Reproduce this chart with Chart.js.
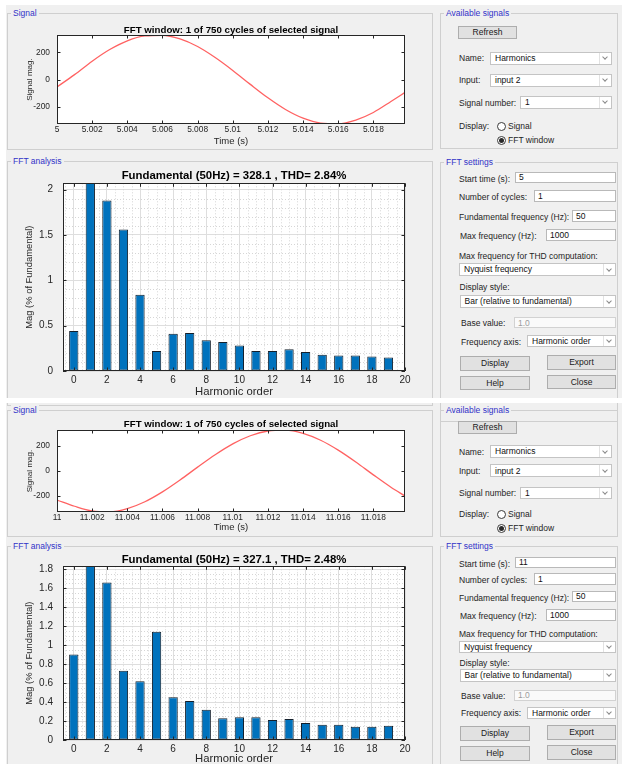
<!DOCTYPE html>
<html>
<head>
<meta charset="utf-8">
<script src="https://cdn.jsdelivr.net/npm/chart.js@4.4.1/dist/chart.umd.min.js"></script>
<style>
  html, body { margin: 0; padding: 0; }
  body { width: 622px; height: 764px; overflow: hidden; background: #fff; position: relative;
         font-family: "Liberation Sans", Arial, Helvetica, sans-serif; }
  .fig { position: absolute; background: #f0f0f0; }
  .gap { position: absolute; background: #fff; z-index: 5; }
  .frame { position: absolute; border: 1px solid #cfcfcf; box-sizing: border-box; }
  .frame .cap { position: absolute; top: -6px; left: 3px; padding: 0 2px; background: #f0f0f0;
                color: #3232c8; font-size: 8.5px; line-height: 10px; white-space: nowrap; }
  .lbl { position: absolute; font-size: 8.5px; line-height: 10px; height: 10px; color: #1e1e1e; white-space: nowrap; }
  .tb, .dd, .btn { position: absolute; box-sizing: border-box; font-size: 8.5px; line-height: 1;
                   display: flex; align-items: center; white-space: nowrap; color: #111; }
  .tb { background: #fff; border: 1px solid #b9b9b9; padding-left: 3px; }
  .tb.dis { color: #9c9c9c; border-color: #d2d2d2; background: #fafafa; }
  .dd { background: #fff; border: 1px solid #c4c4c4; padding-left: 4px; }
  .dd::after { content: ''; position: absolute; right: 0; top: 0; bottom: 0; width: 11px; border-left: 1px solid #e2e2e2; }
  .dd::before { content: ''; position: absolute; right: 4px; top: 50%; width: 3px; height: 3px; margin-top: -3px;
                border-right: 1px solid #8a8a8a; border-bottom: 1px solid #8a8a8a; transform: rotate(45deg); }
  .btn { background: #e1e1e1; border: 1px solid #adadad; justify-content: center; color: #1a1a1a; }
  .rd { position: absolute; width: 9px; height: 9px; border: 1px solid #3a3a3a; border-radius: 50%;
        background: #fff; box-sizing: border-box; }
  .rd.on::after { content: ''; position: absolute; left: 1px; top: 1px; width: 5px; height: 5px;
                  border-radius: 50%; background: #2a2a2a; }
  canvas { position: absolute; z-index: 3; }
</style>
</head>
<body>
<canvas id="sig5" width="420" height="128" style="left:10px;top:20px"></canvas>
<canvas id="fft5" width="420" height="232" style="left:10px;top:166px"></canvas>
<canvas id="sig11" width="420" height="121" style="left:10px;top:415px"></canvas>
<canvas id="fft11" width="420" height="215" style="left:10px;top:549px"></canvas>
<script>
// ---- data ----------------------------------------------------------
const harmonicOrders = [0, 1, 2, 3, 4, 5, 6, 7, 8, 9, 10, 11, 12, 13, 14, 15, 16, 17, 18, 19];

// Harmonic magnitudes (% of fundamental), FFT window starting at 5 s
const magStart5 = [0.44, 100, 1.88, 1.56, 0.84, 0.22, 0.41, 0.42, 0.34, 0.32,
                   0.28, 0.22, 0.22, 0.24, 0.21, 0.18, 0.17, 0.17, 0.16, 0.15];
// Harmonic magnitudes (% of fundamental), FFT window starting at 11 s
const magStart11 = [0.90, 100, 1.66, 0.73, 0.62, 1.14, 0.45, 0.41, 0.32, 0.23,
                    0.24, 0.24, 0.21, 0.22, 0.18, 0.16, 0.16, 0.14, 0.14, 0.15];

// One cycle of the selected signal, window starting at 5 s
const timeStart5 = [5, 5.001, 5.002, 5.003, 5.004, 5.005, 5.006, 5.007, 5.008, 5.009, 5.01,
                    5.011, 5.012, 5.013, 5.014, 5.015, 5.016, 5.017, 5.018, 5.019, 5.0198];
const signalStart5 = [-55, 36, 135, 221, 285, 321, 326, 299, 243, 162, 67,
                      -36, -135, -221, -285, -321, -326, -299, -243, -162, -95];
// One cycle of the selected signal, window starting at 11 s
const timeStart11 = [11, 11.001, 11.002, 11.003, 11.004, 11.005, 11.006, 11.007, 11.008, 11.009, 11.01,
                     11.011, 11.012, 11.013, 11.014, 11.015, 11.016, 11.017, 11.018, 11.019, 11.0198];
const signalStart11 = [-232, -282, -320, -327, -301, -246, -167, -72, 31, 130, 217,
                       282, 320, 327, 301, 246, 167, 72, -31, -130, -200];

// Tick values
const timeTicks5 = [5, 5.002, 5.004, 5.006, 5.008, 5.01, 5.012, 5.014, 5.016, 5.018];
const timeTicks11 = [11, 11.002, 11.004, 11.006, 11.008, 11.01, 11.012, 11.014, 11.016, 11.018];
const signalTicks = [-200, 0, 200];
const harmonicTicks = [0, 2, 4, 6, 8, 10, 12, 14, 16, 18, 20];
const magTicks5 = [0, 0.5, 1, 1.5, 2];
const magTicks11 = [0, 0.2, 0.4, 0.6, 0.8, 1, 1.2, 1.4, 1.6, 1.8];

// ---- GUI panels ----------------------------------------------------
function put(cls, x, y, w, h, text) {
  const d = document.createElement('div');
  d.className = cls;
  d.style.left = x + 'px';
  d.style.top = y + 'px';
  if (w != null) d.style.width = w + 'px';
  if (h != null) d.style.height = h + 'px';
  if (text !== undefined) d.textContent = text;
  document.body.appendChild(d);
  return d;
}
function frame(x, y, w, h, caption) {
  const f = put('frame', x, y, w, h);
  const c = document.createElement('div');
  c.className = 'cap';
  c.textContent = caption;
  f.appendChild(c);
}
function label(x, cy, text) { return put('lbl', x, cy - 5, null, null, text); }

put('fig', 6, 5, 616, 393);
put('fig', 6, 403, 616, 361);
put('gap', 0, 398, 622, 5);

function sidePanel(s) {
  frame(440, s.top, 178, s.availH, 'Available signals');
  put('btn', 458, s.refresh, 59, 12.5, 'Refresh');
  label(459, s.name + 6.5, 'Name:');
  put('dd', 490, s.name, 122, 13, 'Harmonics');
  label(459, s.input + 6.5, 'Input:');
  put('dd', 490, s.input, 122, 13, 'input 2');
  label(459, s.signum + 6.5, 'Signal number:');
  put('dd', 520, s.signum, 92, 12.5, '1');
  label(459, s.disp, 'Display:');
  put('rd', 496.5, s.disp - 4.5, null, null);
  label(508, s.disp, 'Signal');
  put('rd on', 496.5, s.disp + 9.5, null, null);
  label(508, s.disp + 14, 'FFT window');

  frame(440, s.fftTop, 178, 260, 'FFT settings');
  label(459, s.start + 7, 'Start time (s):');
  put('tb', 515, s.start, 101, 11.7, s.startValue);
  label(459, s.cycles + 7, 'Number of cycles:');
  put('tb', 534, s.cycles, 82, 11.7, '1');
  label(459, s.fund + 7, 'Fundamental frequency (Hz):');
  put('tb', 572, s.fund, 44, 11.7, '50');
  label(460, s.maxf + 6.5, 'Max frequency (Hz):');
  put('tb', 546, s.maxf, 70, 11.5, '1000');
  label(459, s.thd, 'Max frequency for THD computation:');
  put('dd', 459, s.nyq, 157, 12.7, 'Nyquist frequency');
  label(459.5, s.style, 'Display style:');
  put('dd', 459.5, s.bar, 156.5, 13.3, 'Bar (relative to fundamental)');
  label(461, s.base + 6, 'Base value:');
  put('tb dis', 514, s.base, 102, 11, '1.0');
  label(461, s.axis + 6.5, 'Frequency axis:');
  put('dd', 527, s.axis, 89, 12.4, 'Harmonic order');
  put('btn', 460, s.btn1 + 1, 70, 14.5, 'Display');
  put('btn', 547, s.btn1, 69, 14.5, 'Export');
  put('btn', 460, s.btn2 + 1, 70, 14.5, 'Help');
  put('btn', 547, s.btn2, 69, 14.5, 'Close');
}

frame(7, 13, 426, 137, 'Signal');
frame(7, 161, 426, 245, 'FFT analysis');
sidePanel({ top: 13, availH: 136, refresh: 26, name: 51.7, input: 73.5, signum: 96, disp: 126,
  fftTop: 162, start: 171.7, startValue: '5', cycles: 190, fund: 210, maxf: 229.3, thd: 256,
  nyq: 263.3, style: 286.7, bar: 295, base: 317.3, axis: 335, btn1: 355, btn2: 374.5 });

frame(7, 410, 426, 127, 'Signal');
frame(7, 546, 426, 240, 'FFT analysis');
sidePanel({ top: 410, availH: 127, refresh: 421, name: 445, input: 464.3, signum: 486.7, disp: 514,
  fftTop: 546, start: 556.7, startValue: '11', cycles: 573, fund: 590.7, maxf: 609, thd: 634,
  nyq: 640.7, style: 663.3, bar: 668.7, base: 690, axis: 706.7, btn1: 725, btn2: 745 });

// ---- charts --------------------------------------------------------
const FONT = '"Liberation Sans", Arial, Helvetica, sans-serif';
Chart.defaults.font.family = FONT;
Chart.defaults.color = '#262626';
const AXIS_COLOR = '#262626';

// White plot area, dotted minor grid, boxed axes with inward tick marks
const axesBox = {
  id: 'axesBox',
  beforeDraw(chart) {
    const { ctx, chartArea: a } = chart;
    ctx.save();
    ctx.fillStyle = '#fff';
    ctx.fillRect(a.left, a.top, a.right - a.left, a.bottom - a.top);
    ctx.restore();
  },
  beforeDatasetsDraw(chart, args, o) {
    const { ctx, chartArea: a, scales: { x, y } } = chart;
    ctx.save();
    ctx.strokeStyle = '#d6d6d6';
    ctx.lineWidth = 1;
    ctx.setLineDash([1, 2]);
    ctx.beginPath();
    const onMajor = (v, step) => Math.abs(v / step - Math.round(v / step)) < 1e-6;
    if (o.minorX) {
      for (let v = Math.ceil(x.min / o.minorX) * o.minorX; v <= x.max + 1e-9; v += o.minorX) {
        if (onMajor(v, o.majorX)) continue;
        const px = Math.round(x.getPixelForValue(v)) + 0.5;
        ctx.moveTo(px, a.top); ctx.lineTo(px, a.bottom);
      }
    }
    if (o.minorY) {
      for (let v = Math.ceil(y.min / o.minorY) * o.minorY; v <= y.max + 1e-9; v += o.minorY) {
        if (onMajor(v, o.majorY)) continue;
        const py = Math.round(y.getPixelForValue(v)) + 0.5;
        ctx.moveTo(a.left, py); ctx.lineTo(a.right, py);
      }
    }
    ctx.stroke();
    ctx.restore();
  },
  afterDatasetsDraw(chart) {
    const { ctx, chartArea: a, scales: { x, y } } = chart;
    const L = 3.5;
    ctx.save();
    ctx.strokeStyle = AXIS_COLOR;
    ctx.lineWidth = 1;
    ctx.beginPath();
    x.ticks.forEach(t => {
      const px = Math.round(x.getPixelForValue(t.value)) + 0.5;
      ctx.moveTo(px, a.bottom); ctx.lineTo(px, a.bottom - L);
      ctx.moveTo(px, a.top); ctx.lineTo(px, a.top + L);
    });
    y.ticks.forEach(t => {
      const py = Math.round(y.getPixelForValue(t.value)) + 0.5;
      ctx.moveTo(a.left, py); ctx.lineTo(a.left + L, py);
      ctx.moveTo(a.right, py); ctx.lineTo(a.right - L, py);
    });
    ctx.stroke();
    ctx.strokeRect(Math.round(a.left) + 0.5, Math.round(a.top) + 0.5,
                   Math.round(a.right - a.left) - 1, Math.round(a.bottom - a.top) - 1);
    ctx.restore();
  }
};

function axesOptions(p) {
  return {
    responsive: false,
    animation: false,
    devicePixelRatio: 1,
    layout: { padding: { top: 0, left: 0, right: 25, bottom: 0 } },
    plugins: {
      legend: { display: false },
      tooltip: { enabled: false },
      title: {
        display: true, fullSize: false, text: p.title, color: '#000',
        font: { size: p.titleSize, weight: 'bold', lineHeight: 1 },
        padding: { top: p.titlePadTop, bottom: p.titlePadBottom }
      },
      axesBox: { minorX: p.minorX, minorY: p.minorY, majorX: p.majorX, majorY: p.majorY }
    },
    scales: {
      x: {
        type: 'linear', min: p.xMin, max: p.xMax, bounds: 'data', offset: false,
        grid: { display: p.grid, color: '#dedede', drawTicks: false, offset: false },
        border: { display: false },
        afterBuildTicks: s => { s.ticks = p.xTicks.map(v => ({ value: v })); },
        afterFit: s => { s.height = p.xAxisH; },
        ticks: { autoSkip: false, maxRotation: 0, padding: p.xTickPad, color: AXIS_COLOR,
                 font: { size: p.tickSize }, callback: v => String(v) },
        title: { display: true, text: p.xTitle, color: AXIS_COLOR,
                 font: { size: p.xTitleSize, lineHeight: p.xTitleLH },
                 padding: { top: 0, bottom: p.xTitlePad } }
      },
      y: {
        type: 'linear', min: p.yMin, max: p.yMax, bounds: 'data',
        grid: { display: p.grid, color: '#dedede', drawTicks: false },
        border: { display: false },
        afterBuildTicks: s => { s.ticks = p.yTicks.map(v => ({ value: v })); },
        afterFit: s => { s.width = p.yAxisW; },
        ticks: { autoSkip: false, padding: p.yTickPad, color: AXIS_COLOR,
                 font: { size: p.tickSize }, callback: v => String(v) },
        title: { display: true, text: p.yTitle, color: AXIS_COLOR,
                 font: { size: p.yTitleSize, lineHeight: 1.2 },
                 padding: { top: p.yTitlePad, bottom: 0 } }
      }
    }
  };
}

function signalChart(id, times, values, ticks, xMin, xMax, extra) {
  return new Chart(document.getElementById(id), {
    type: 'line',
    data: {
      datasets: [{
        data: times.map((t, i) => ({ x: t, y: values[i] })),
        borderColor: '#ff6262', borderWidth: 1.3, pointRadius: 0,
        cubicInterpolationMode: 'monotone', fill: false
      }]
    },
    options: axesOptions(Object.assign({
      title: 'FFT window: 1 of 750 cycles of selected signal', titleSize: 9.7,
      xMin, xMax, xTicks: ticks, yMin: -328, yMax: 328, yTicks: signalTicks,
      yAxisW: 47, tickSize: 8.4, xTickPad: 1,
      xTitle: 'Time (s)', xTitleSize: 9.5, xTitleLH: 1.2,
      yTitle: 'Signal mag.', yTitleSize: 8.1, yTitlePad: 15.1, yTickPad: 7, grid: false
    }, extra)),
    plugins: [axesBox]
  });
}

function fftChart(id, title, mags, yMax, yTicks, minorY, majorY, extra) {
  return new Chart(document.getElementById(id), {
    type: 'bar',
    data: {
      datasets: [{
        data: harmonicOrders.map((h, i) => ({ x: h, y: mags[i] })),
        backgroundColor: '#0072bd', borderColor: '#14202c', borderWidth: 1,
        borderSkipped: false, barPercentage: 0.56, categoryPercentage: 1, clip: 0
      }]
    },
    options: axesOptions(Object.assign({
      title, titleSize: 11.4,
      xMin: -0.65, xMax: 20, xTicks: harmonicTicks, yMin: 0, yMax, yTicks,
      yAxisW: 53, tickSize: 10, xTickPad: 3,
      xTitle: 'Harmonic order', xTitleSize: 11.3,
      yTitle: 'Mag (% of Fundamental)', yTitleSize: 9.4, yTitlePad: 13.4, yTickPad: 10, grid: true,
      minorX: 0.5, majorX: 2, minorY, majorY
    }, extra)),
    plugins: [axesBox]
  });
}

signalChart('sig5', timeStart5, signalStart5, timeTicks5, 5, 5.0198,
  { titlePadTop: 5.15, titlePadBottom: 0.15, xAxisH: 24, xTitlePad: 1.3 });
fftChart('fft5', 'Fundamental (50Hz) = 328.1 , THD= 2.84%', magStart5, 2.07, magTicks5, 0.1, 0.5,
  { titlePadTop: 4.0, titlePadBottom: 1.9, xAxisH: 27, xTitleLH: 1.0, xTitlePad: 0.4 });
signalChart('sig11', timeStart11, signalStart11, timeTicks11, 11, 11.0198,
  { titlePadTop: 4.45, titlePadBottom: 0.85, xAxisH: 24, xTitlePad: 2.6 });
fftChart('fft11', 'Fundamental (50Hz) = 327.1 , THD= 2.48%', magStart11, 1.83, magTicks11, 0.05, 0.2,
  { titlePadTop: 5.0, titlePadBottom: 0.9, xAxisH: 24, xTitleLH: 0.9, xTitlePad: 0 });
</script>
</body>
</html>
